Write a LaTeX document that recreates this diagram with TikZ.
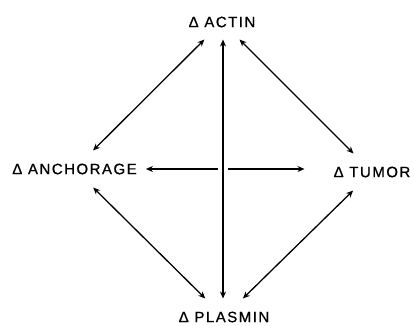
\documentclass[tikz,border=0pt]{standalone}
\usepackage{fontspec}
\setmainfont[LetterSpace=10,FakeBold=0.8]{Liberation Sans}
\usetikzlibrary{arrows.meta}
\begin{document}
\begin{tikzpicture}[x=1pt,y=-1pt,
  lbl/.style={font=\fontsize{15}{17}\selectfont, inner ysep=13pt, inner xsep=9pt},
  tipstyle/.style={line width=1.3pt},
  conn/.style={tipstyle, {Stealth[length=7pt,width=6pt]}-{Stealth[length=7pt,width=6pt]}}]
\useasboundingbox (0,0) rectangle (414,325);
\node[lbl, inner ysep=12pt] (actin) at (222,22) {Δ ACTIN};
\node[lbl] (anch) at (74.5,169) {Δ ANCHORAGE};
\node[lbl, inner xsep=29pt] (tumor) at (372,172) {Δ TUMOR};
\node[lbl, inner ysep=13pt] (plasmin) at (224,317) {Δ PLASMIN};
\draw[conn] (actin) -- (anch);
\draw[conn] (actin) -- (tumor);
\draw[conn] (plasmin) -- (anch);
\draw[conn] (plasmin) -- (tumor);
\draw[conn] (anch.east) -- (anch.east -| tumor.west);
\draw[conn, line width=1.6pt, preaction={draw=white, line width=10pt, -}] (223,0 |- actin.south) -- (223,0 |- plasmin.north);
\end{tikzpicture}
\end{document}
